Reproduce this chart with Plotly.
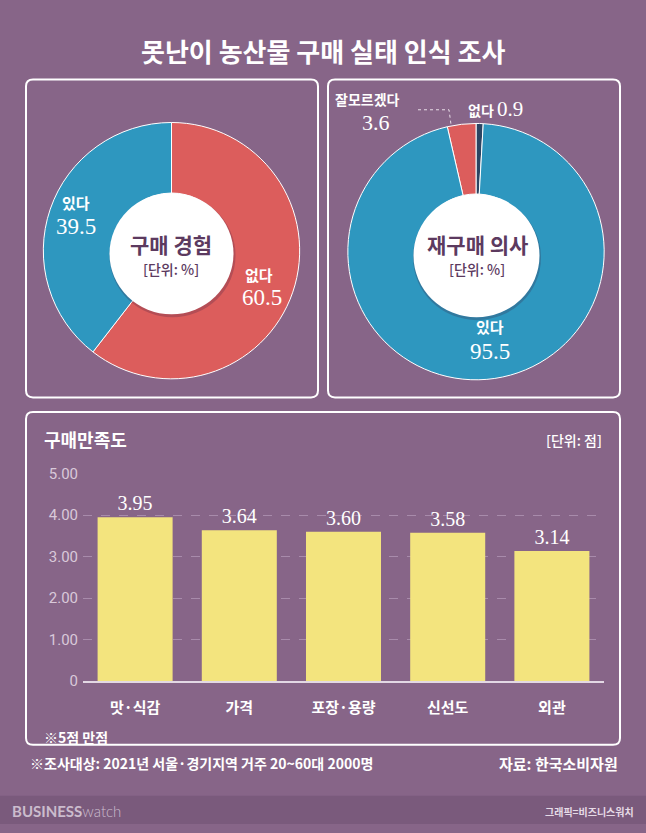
import plotly.graph_objects as go

W, H = 646, 833

# data
title = "못난이 농산물 구매 실태 인식 조사"

exp_labels = ["없다", "있다"]
exp_values = [60.5, 39.5]

rebuy_labels = ["없다", "잘모르겠다", "있다"]
rebuy_values = [0.9, 3.6, 95.5]

sat_items = ["맛·식감", "가격", "포장·용량", "신선도", "외관"]
sat_scores = [3.95, 3.64, 3.60, 3.58, 3.14]
y_ticks = [0, 1, 2, 3, 4, 5]
y_ticktext = ["0", "1.00", "2.00", "3.00", "4.00", "5.00"]

BG = "#876588"
BAND = "#7a5a7c"
BLUE = "#2e97bf"
RED = "#dc5d5c"
NAVY = "#2c4563"
YELLOW = "#f3e47e"
DARK = "#5c3a5f"
KR = "Noto Sans CJK KR"
SERIF = "Liberation Serif"


def px(x):
    return x / W


def py(y):
    return 1 - y / H


def rrect(x0, y0, x1, y1, r):
    # rounded rectangle path in paper coords (input in pixels)
    pts = [
        f"M {px(x0 + r)},{py(y0)}",
        f"L {px(x1 - r)},{py(y0)}",
        f"Q {px(x1)},{py(y0)} {px(x1)},{py(y0 + r)}",
        f"L {px(x1)},{py(y1 - r)}",
        f"Q {px(x1)},{py(y1)} {px(x1 - r)},{py(y1)}",
        f"L {px(x0 + r)},{py(y1)}",
        f"Q {px(x0)},{py(y1)} {px(x0)},{py(y1 - r)}",
        f"L {px(x0)},{py(y0 + r)}",
        f"Q {px(x0)},{py(y0)} {px(x0 + r)},{py(y0)} Z",
    ]
    return " ".join(pts)


def circle(cx, cy, r, color, opacity=1.0):
    return dict(type="circle", xref="paper", yref="paper",
                x0=px(cx - r), x1=px(cx + r), y0=py(cy + r), y1=py(cy - r),
                fillcolor=color, line=dict(width=0), opacity=opacity, layer="above")


fig = go.Figure()

# pie 1: 구매 경험
c1 = (171.5, 247, 131)
fig.add_trace(go.Pie(
    labels=exp_labels, values=exp_values, sort=False, direction="clockwise",
    rotation=0, hole=0.45, textinfo="none", hoverinfo="label+value",
    marker=dict(colors=[RED, BLUE], line=dict(color="white", width=1)),
    domain=dict(x=[px(c1[0] - c1[2]), px(c1[0] + c1[2])],
                y=[py(c1[1] + c1[2]), py(c1[1] - c1[2])]),
    showlegend=False,
))

# pie 2: 재구매 의사
c2 = (476, 248, 131)
fig.add_trace(go.Pie(
    labels=rebuy_labels, values=rebuy_values, sort=False, direction="counterclockwise",
    rotation=0, hole=0.45, textinfo="none", hoverinfo="label+value",
    marker=dict(colors=[NAVY, RED, BLUE], line=dict(color="white", width=1)),
    domain=dict(x=[px(c2[0] - c2[2]), px(c2[0] + c2[2])],
                y=[py(c2[1] + c2[2]), py(c2[1] - c2[2])]),
    showlegend=False,
))

# bar chart: 구매만족도
fig.add_trace(go.Bar(
    x=sat_items, y=sat_scores, marker=dict(color=YELLOW, line=dict(width=0)),
    text=[f"{v:.2f}" for v in sat_scores], textposition="outside",
    textfont=dict(family=SERIF, size=20, color="white"), cliponaxis=False,
    showlegend=False,
))

shapes = [
    dict(type="rect", xref="paper", yref="paper", x0=0, x1=1, y0=0, y1=py(804),
         fillcolor=BAND, line=dict(width=0), layer="below"),
    dict(type="path", xref="paper", yref="paper", path=rrect(26, 72, 318, 397, 7),
         line=dict(color="white", width=2), layer="below"),
    dict(type="path", xref="paper", yref="paper", path=rrect(328, 72, 620, 397, 7),
         line=dict(color="white", width=2), layer="below"),
    dict(type="path", xref="paper", yref="paper", path=rrect(26, 412, 620, 752, 7),
         line=dict(color="white", width=2), layer="below"),
    circle(c1[0] + 1, 252, 63, "#3a2040", 0.25),
    circle(c1[0], 250, 62, "white"),
    circle(c2[0] + 1, 254, 64, "#3a2040", 0.25),
    circle(c2[0] + 0.5, 252, 63, "white"),
    dict(type="path", xref="paper", yref="paper",
         path=f"M {px(418)},{py(103)} L {px(449)},{py(103)} L {px(451)},{py(118)}",
         line=dict(color="#e8dde8", width=1, dash="dot"), layer="above"),
]


def ann(x, y, text, size, color="white", family=KR, anchor="center", weight="normal"):
    return dict(x=px(x), y=py(y), xref="paper", yref="paper", text=text, showarrow=False,
                xanchor=anchor, yanchor="middle",
                font=dict(family=family, size=size, color=color, weight=weight))


annotations = [
    ann(323, 42, title, 26, weight="bold"),
    # pie 1
    ann(171, 240, "구매 경험", 21, DARK, weight="bold"),
    ann(171, 266, "[단위: %]", 14, DARK, weight=500),
    ann(76, 198, exp_labels[1], 15, weight="bold"),
    ann(76, 222, f"{exp_values[1]}", 23, family=SERIF),
    ann(259, 271, exp_labels[0], 15, weight="bold"),
    ann(262, 295, f"{exp_values[0]}", 23, family=SERIF),
    # pie 2
    ann(477, 240, "재구매 의사", 21, DARK, weight="bold"),
    ann(477, 266, "[단위: %]", 14, DARK, weight=500),
    ann(367, 92, rebuy_labels[1], 14, weight="bold"),
    ann(376, 116, f"{rebuy_values[1]}", 22, family=SERIF),
    ann(466, 102, f"<b>{rebuy_labels[0]}</b> <span style='font-family:{SERIF};font-size:21px'>{rebuy_values[0]}</span>",
        14, anchor="left"),
    ann(490, 325, rebuy_labels[2], 15, weight="bold"),
    ann(490, 350, f"{rebuy_values[2]}", 23, family=SERIF),
    # bar panel
    ann(42, 440, "구매만족도", 18, anchor="left", weight="bold"),
    ann(604, 441, "[단위: 점]", 14, anchor="right", weight=500),
    ann(42, 744, "※5점 만점", 14, anchor="left", weight="bold"),
    # footer
    ann(28, 771, "※조사대상: 2021년 서울·경기지역 거주 20~60대 2000명", 14, anchor="left", weight="bold"),
    ann(620, 771, "자료: 한국소비자원", 15, anchor="right", weight="bold"),
    ann(10, 820, "<b>BUSINESS</b><span style='font-weight:300'>watch</span>", 15, "#cbbccd",
        family="Lato", anchor="left"),
    ann(636, 820, "그래픽=비즈니스워치", 10, "#e6dbe6", anchor="right", weight="bold"),
]

fig.update_layout(
    width=W, height=H, margin=dict(l=0, r=0, t=0, b=0),
    paper_bgcolor=BG, plot_bgcolor="rgba(0,0,0,0)",
    shapes=shapes, annotations=annotations, bargap=0.28,
    font=dict(family=KR),
    xaxis=dict(domain=[px(83), px(604)], showline=True, linecolor="#e3d8e4", linewidth=1.5,
               ticks="", tickfont=dict(family=KR, size=15, color="white", weight="bold"),
               ticklabelstandoff=12, fixedrange=True),
    yaxis=dict(domain=[py(687), py(475)], range=[0, 5], tickvals=y_ticks, ticktext=y_ticktext,
               showgrid=True, gridcolor="#a88bab", griddash="dash", gridwidth=1,
               zeroline=False, showline=False, ticks="", ticklabelstandoff=4,
               tickfont=dict(family="Roboto", size=15, color="#d9c9da"), fixedrange=True),
)

fig.write_html("out.html", config={"displayModeBar": False},
               post_script="document.body.style.margin='0';document.body.style.overflow='hidden';")
